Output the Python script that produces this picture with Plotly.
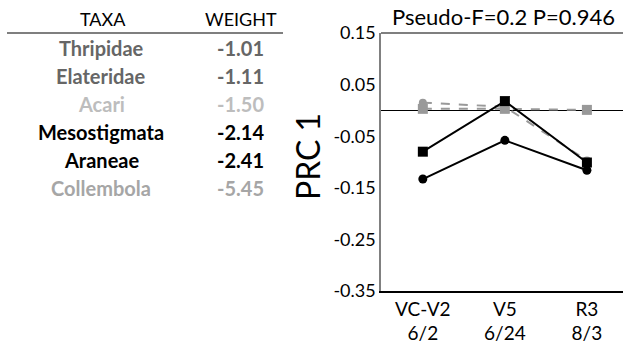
import plotly.graph_objects as go

# ---- data ----
taxa = ["Thripidae", "Elateridae", "Acari", "Mesostigmata", "Araneae", "Collembola"]
weights = ["-1.01", "-1.11", "-1.50", "-2.14", "-2.41", "-5.45"]
taxa_colors = ["#666666", "#666666", "#bdbdbd", "#000000", "#000000", "#a6a6a6"]

stages = ["VC-V2<br>6/2", "V5<br>6/24", "R3<br>8/3"]
black_sq = [-0.080, 0.018, -0.101]
black_ci = [-0.133, -0.058, -0.116]
gray_ci = [0.015, 0.007, -0.097]
gray_sq = [0.003, 0.003, 0.001]

y_ticks = [0.15, 0.05, -0.05, -0.15, -0.25, -0.35]

FONT = "Lato"
W, H = 623, 348
L, R, T, B = 381, 0, 33, 57
pw, ph = W - L - R, H - T - B


def px(x):
    return (x - L) / pw


def py(y):
    return (H - B - y) / ph


fig = go.Figure()
fig.add_trace(go.Scatter(x=stages, y=gray_ci, mode="lines+markers",
                         line=dict(color="#999999", width=2, dash="dash"),
                         marker=dict(symbol="circle", size=8, color="#999999")))
fig.add_trace(go.Scatter(x=stages, y=gray_sq, mode="lines+markers",
                         line=dict(color="#999999", width=2, dash="dash"),
                         marker=dict(symbol="square", size=10, color="#999999")))
fig.add_trace(go.Scatter(x=stages, y=black_sq, mode="lines+markers",
                         line=dict(color="#000000", width=2),
                         marker=dict(symbol="square", size=10, color="#000000")))
fig.add_trace(go.Scatter(x=stages, y=black_ci, mode="lines+markers",
                         line=dict(color="#000000", width=2),
                         marker=dict(symbol="circle", size=9, color="#000000")))

fig.update_layout(
    width=W, height=H,
    margin=dict(l=L, r=R, t=T, b=B),
    paper_bgcolor="white", plot_bgcolor="white",
    showlegend=False,
    font=dict(family=FONT, color="#000000"),
    xaxis=dict(range=[-0.51, 2.44], showgrid=False, zeroline=False,
               showline=True, linecolor="#000000", linewidth=1.5,
               ticks="", tickfont=dict(size=19, family=FONT)),
    yaxis=dict(range=[-0.35, 0.15], tickvals=y_ticks,
               ticktext=[f"{v:.2f}" for v in y_ticks],
               showgrid=False, zeroline=True, zerolinecolor="#000000",
               zerolinewidth=1, showline=True, linecolor="#808080",
               linewidth=1.5, ticks="", tickfont=dict(size=18, family=FONT)),
)

# top border
fig.add_shape(type="line", xref="paper", yref="paper", x0=0, x1=1, y0=1, y1=1,
              line=dict(color="#000000", width=1.2))

# y-axis title
fig.add_annotation(text="PRC 1", xref="paper", yref="paper", x=px(307), y=py(157),
                   xanchor="center", yanchor="middle", textangle=-90, showarrow=False,
                   font=dict(size=32, family=FONT, color="#000000"))

# title
fig.add_annotation(text="Pseudo-F=0.2 P=0.946", xref="paper", yref="paper",
                   x=px(503), y=py(17), xanchor="center", yanchor="middle",
                   showarrow=False, font=dict(size=22, family=FONT, color="#000000"))

# table header
fig.add_annotation(text="TAXA", xref="paper", yref="paper", x=px(103), y=py(19),
                   xanchor="center", yanchor="middle",
                   showarrow=False, font=dict(size=18, family=FONT, color="#000000"))
fig.add_annotation(text="WEIGHT", xref="paper", yref="paper", x=px(241), y=py(19),
                   xanchor="center", yanchor="middle",
                   showarrow=False, font=dict(size=18, family=FONT, color="#000000"))
fig.add_shape(type="line", xref="paper", yref="paper", x0=px(7), x1=px(283),
              y0=py(33), y1=py(33), line=dict(color="#000000", width=1.2))

row_y0, row_dy = 48, 28
for i, (t, w, c) in enumerate(zip(taxa, weights, taxa_colors)):
    yy = py(row_y0 + i * row_dy)
    fig.add_annotation(text=f"<b>{t}</b>", xref="paper", yref="paper", x=px(101), y=yy,
                       xanchor="center", yanchor="middle",
                       showarrow=False, font=dict(size=20, family=FONT, color=c))
    fig.add_annotation(text=f"<b>{w}</b>", xref="paper", yref="paper", x=px(240), y=yy,
                       xanchor="center", yanchor="middle",
                       showarrow=False, font=dict(size=20, family=FONT, color=c))

fig.write_html("out.html", config={"displayModeBar": False},
               post_script="document.body.style.margin='0';")
